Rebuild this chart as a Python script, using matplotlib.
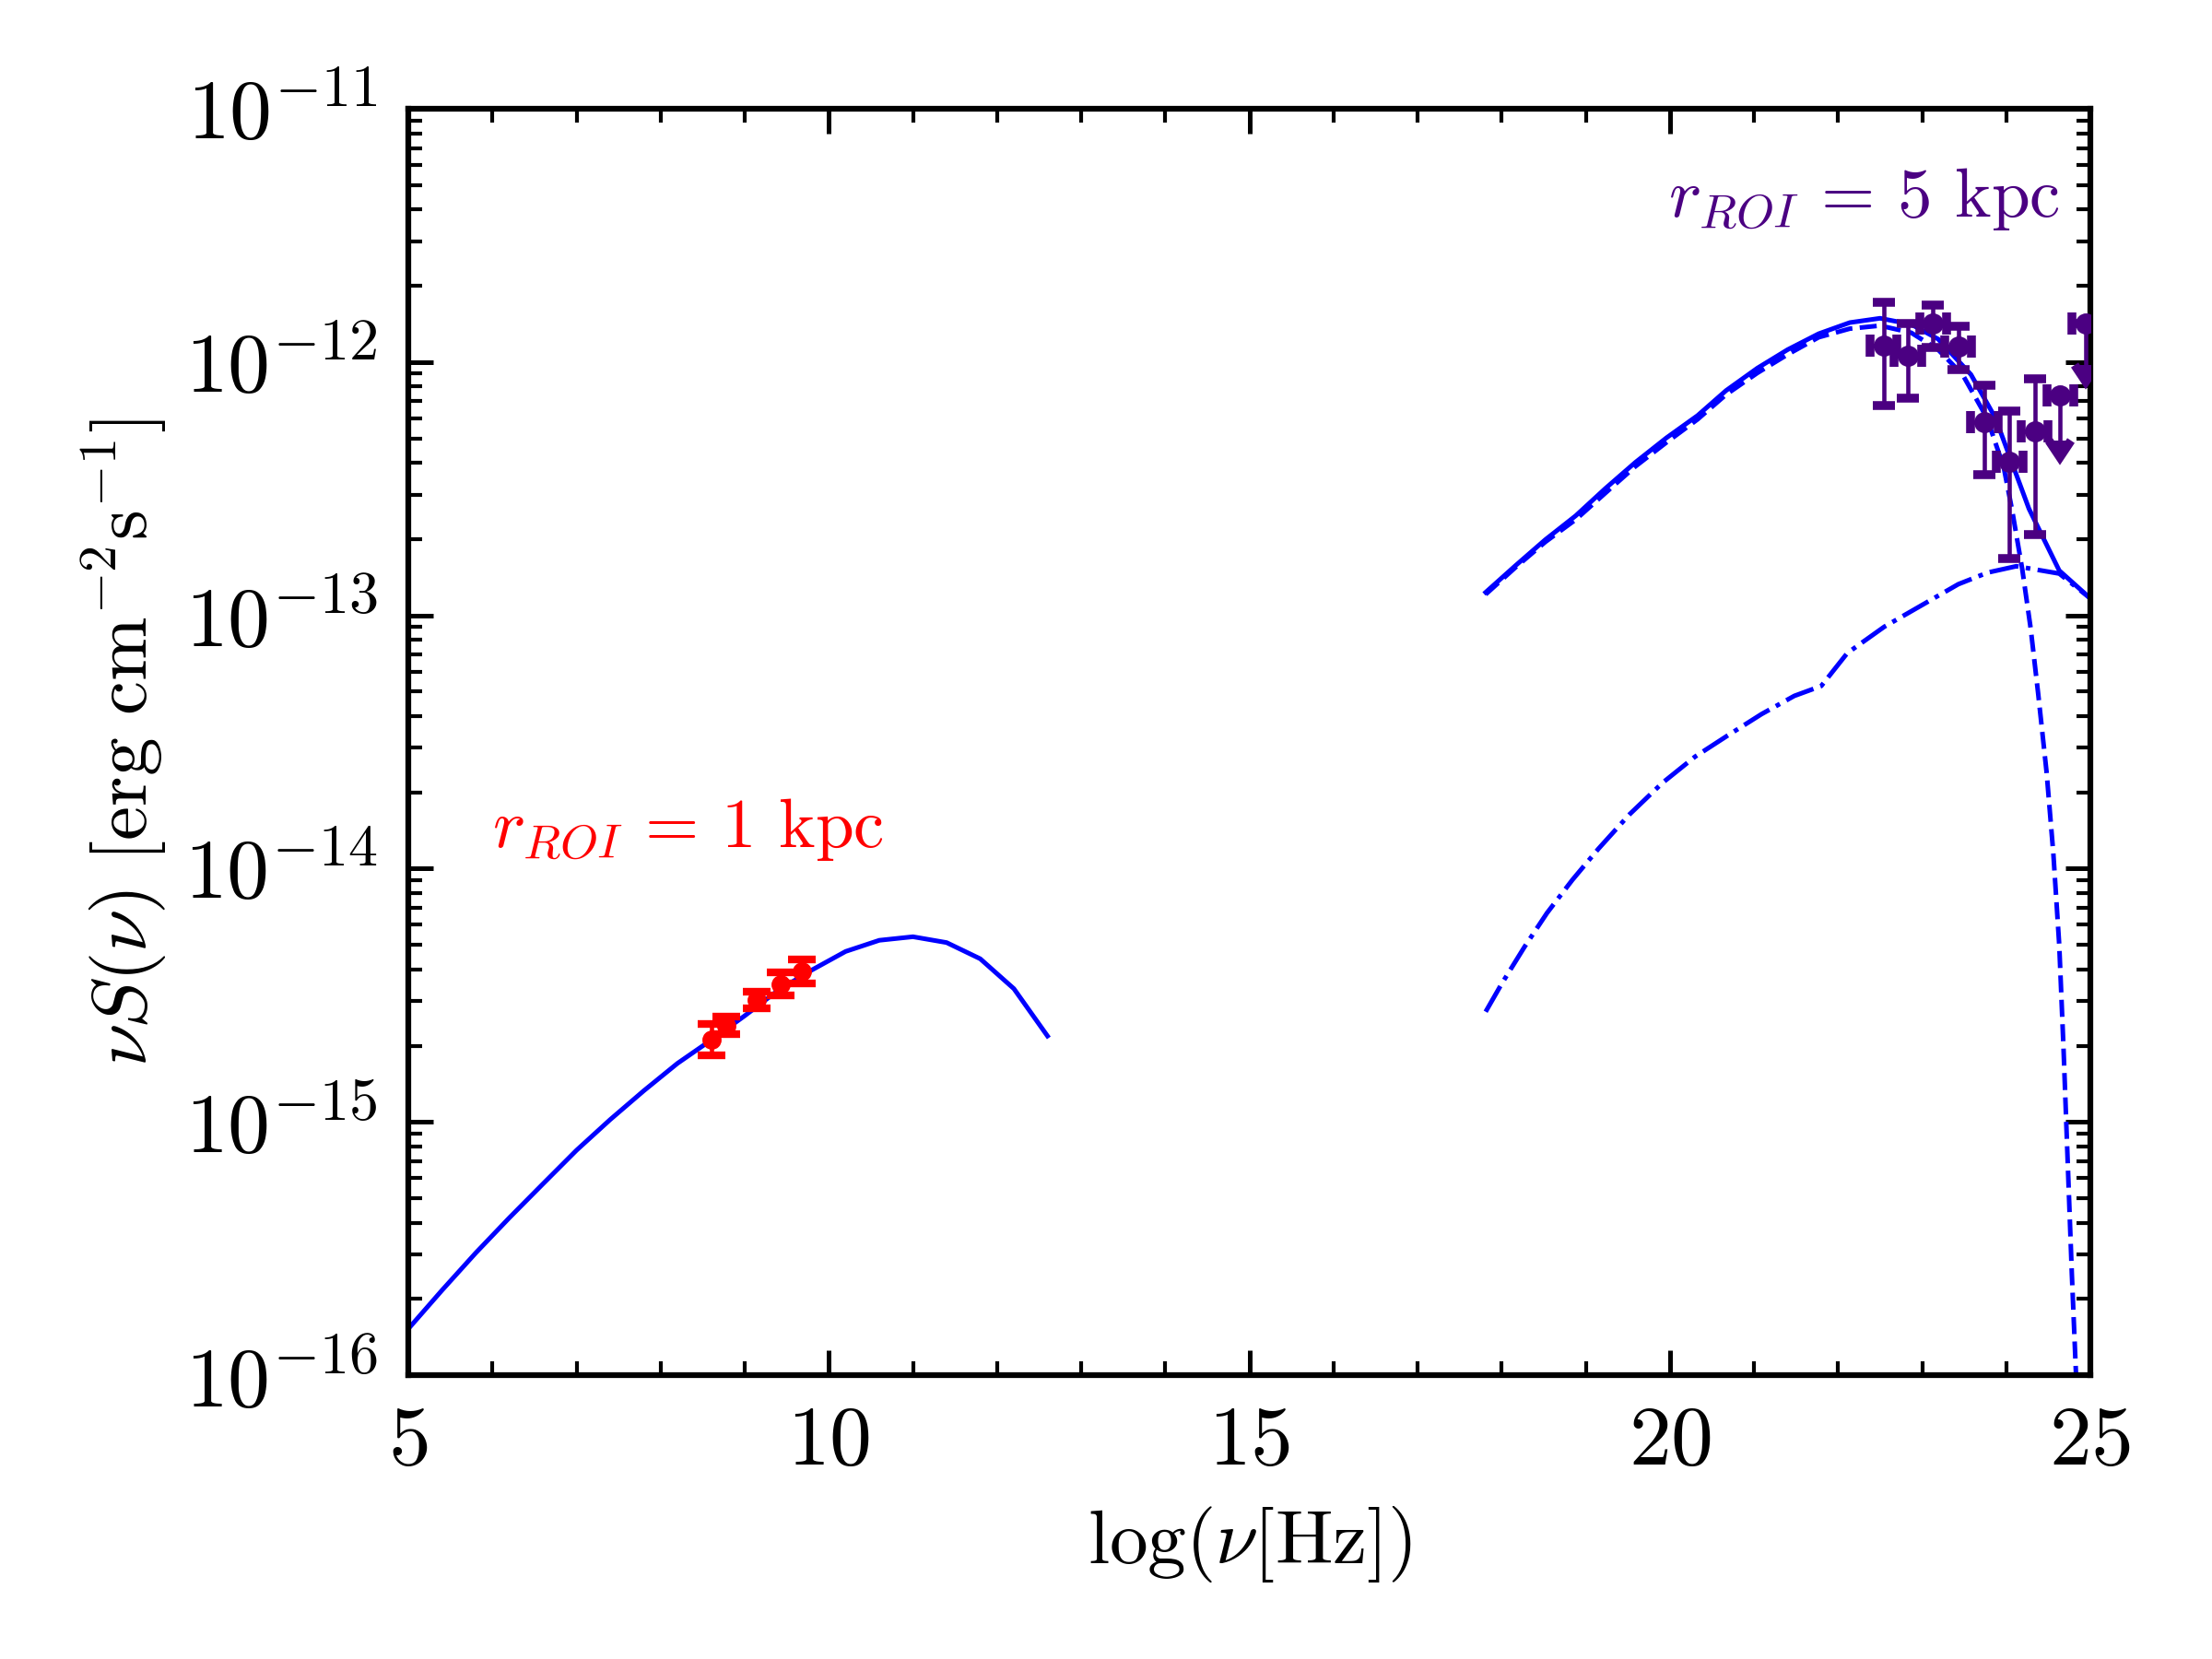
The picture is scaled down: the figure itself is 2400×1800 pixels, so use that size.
import numpy as np
import matplotlib
matplotlib.use("Agg")
import matplotlib.pyplot as plt
from matplotlib.ticker import MultipleLocator, FixedLocator, LogLocator, NullFormatter

plt.rcParams['mathtext.fontset'] = 'cm'
plt.rcParams['font.family'] = 'serif'
plt.rcParams['font.serif'] = ['cmr10', 'DejaVu Serif']
plt.rcParams['axes.formatter.use_mathtext'] = True
plt.rcParams['axes.unicode_minus'] = True

# ---- data ----
# radio synchrotron model, r_ROI = 1 kpc
sync_logx = [5.0, 5.4, 5.8, 6.2, 6.6, 7.0, 7.4, 7.8, 8.2, 8.6, 9.0, 9.4,
             9.8, 10.2, 10.6, 11.0, 11.4, 11.8, 12.2, 12.6]
sync_logy = [-15.817, -15.665, -15.518, -15.379, -15.245, -15.112, -14.991,
             -14.877, -14.769, -14.677, -14.581, -14.480, -14.400, -14.327,
             -14.283, -14.269, -14.292, -14.356, -14.474, -14.661]

# high-energy model, r_ROI = 5 kpc : total (solid)
tot_logx = [17.81, 18.16, 18.52, 18.88, 19.23, 19.59, 19.96, 20.33, 20.67,
            21.04, 21.40, 21.77, 22.14, 22.50, 22.87, 23.19, 23.58, 23.87,
            24.27, 24.63, 25.00]
tot_logy = [-12.909, -12.805, -12.701, -12.607, -12.500, -12.396, -12.299,
            -12.211, -12.112, -12.024, -11.951, -11.888, -11.844, -11.827,
            -11.851, -11.909, -12.049, -12.220, -12.579, -12.823, -12.933]

# component 1 (dashed)
ic_logx = [17.81, 18.16, 18.52, 18.88, 19.23, 19.59, 19.96, 20.33, 20.67,
           21.04, 21.40, 21.77, 22.14, 22.50, 22.87, 23.19, 23.48, 23.77,
           23.97, 24.07, 24.19, 24.29, 24.38, 24.48, 24.56, 24.63, 24.68,
           24.73, 24.78, 24.83, 24.86]
ic_logy = [-12.917, -12.812, -12.710, -12.622, -12.518, -12.412, -12.317,
           -12.226, -12.128, -12.043, -11.970, -11.902, -11.868, -11.856,
           -11.884, -11.951, -12.049, -12.220, -12.415, -12.585, -12.817,
           -13.05, -13.31, -13.62, -13.94, -14.30, -14.70, -15.15, -15.60,
           -16.00, -16.30]

# component 2 (dash-dot)
br_logx = [17.81, 18.00, 18.27, 18.54, 18.84, 19.15, 19.52, 19.91, 20.30,
           20.69, 21.09, 21.48, 21.80, 22.11, 22.55, 22.99, 23.43, 23.78,
           24.12, 24.63, 25.00]
br_logy = [-14.565, -14.455, -14.310, -14.175, -14.045, -13.922, -13.786,
           -13.662, -13.558, -13.474, -13.390, -13.318, -13.279, -13.149,
           -13.045, -12.961, -12.877, -12.831, -12.806, -12.835, -12.933]

# radio data points
radio_x = [8.61, 8.78, 9.14, 9.43, 9.68]
radio_y = [2.12e-15, 2.40e-15, 3.03e-15, 3.49e-15, 3.92e-15]
radio_lo = [1.83e-15, 2.23e-15, 2.80e-15, 3.15e-15, 3.51e-15]
radio_hi = [2.43e-15, 2.60e-15, 3.27e-15, 3.89e-15, 4.37e-15]

# gamma-ray data points
gam_x = [22.54, 22.83, 23.13, 23.43, 23.74, 24.04, 24.34, 24.64, 24.94]
gam_y = [1.157e-12, 1.06e-12, 1.42e-12, 1.15e-12, 5.78e-13, 4.04e-13,
         5.32e-13, 7.38e-13, 1.42e-12]
gam_lo = [6.71e-13, 7.18e-13, 1.145e-12, 9.33e-13, 3.59e-13, 1.67e-13,
          2.09e-13, 4.89e-13, 9.72e-13]
gam_hi = [1.72e-12, 1.42e-12, 1.68e-12, 1.38e-12, 8.11e-13, 6.42e-13,
          8.57e-13, 7.38e-13, 1.42e-12]
gam_ul = [False, False, False, False, False, False, False, True, True]
gam_xerr = 0.16

y_ticks = [1e-16, 1e-15, 1e-14, 1e-13, 1e-12, 1e-11]

BLUE = '#0000ff'
RED = '#ff0000'
PURPLE = '#4b0082'

fig = plt.figure(figsize=(8, 6), dpi=300)
ax = fig.add_axes([0.1846, 0.1711, 0.7604, 0.7633])

lw = 1.2
ax.plot(sync_logx, 10.0 ** np.array(sync_logy), color=BLUE, lw=lw, zorder=2)
ax.plot(tot_logx, 10.0 ** np.array(tot_logy), color=BLUE, lw=lw, zorder=2)
ax.plot(ic_logx, 10.0 ** np.array(ic_logy), color=BLUE, lw=lw, ls='--', zorder=2)
ax.plot(br_logx, 10.0 ** np.array(br_logy), color=BLUE, lw=lw, ls='-.', zorder=2)

ry = np.array(radio_y)
ax.errorbar(radio_x, ry, yerr=[ry - np.array(radio_lo), np.array(radio_hi) - ry],
            fmt='o', color=RED, ms=4.0, elinewidth=1.1, capsize=3.6,
            capthick=2.0, zorder=4)

gy = np.array(gam_y)
gyerr = [gy - np.array(gam_lo), np.array(gam_hi) - gy]
gyerr[1] = np.where(gam_ul, 0.0, gyerr[1])
ax.errorbar(gam_x, gy, xerr=gam_xerr, yerr=gyerr, uplims=gam_ul,
            fmt='o', color=PURPLE, ms=4.5, elinewidth=1.1, capsize=2.8,
            capthick=2.3, zorder=4)

ax.set_yscale('log')
ax.set_xlim(5, 25)
ax.set_ylim(1e-16, 1e-11)
ax.xaxis.set_major_locator(MultipleLocator(5))
ax.xaxis.set_minor_locator(MultipleLocator(1))
ax.yaxis.set_major_locator(FixedLocator(y_ticks))
ax.yaxis.set_minor_locator(LogLocator(base=10, subs=np.arange(2, 10), numticks=20))
ax.yaxis.set_minor_formatter(NullFormatter())

ax.tick_params(which='both', direction='in', top=True, right=True,
               labelsize=22)
ax.tick_params(which='major', length=6.5, width=1.2, pad=8)
ax.tick_params(which='minor', length=3.6, width=1.0)
for s in ax.spines.values():
    s.set_linewidth(1.5)

ax.set_xlabel(r'$\log(\nu[\mathrm{Hz}])$', fontsize=20, labelpad=6)
ax.set_ylabel(r'$\nu S(\nu)\ [\mathrm{erg\ cm^{-2}s^{-1}}]$', fontsize=20,
              labelpad=4)

ax.text(6.0, 1.43e-14, r'$r_{ROI}\,=\,1$ kpc', color=RED, fontsize=18,
        ha='left', va='center')
ax.text(24.64, 4.4e-12, r'$r_{ROI}\,=\,5$ kpc', color=PURPLE,
        fontsize=18, ha='right', va='center')

fig.savefig('out.png', dpi=300)
